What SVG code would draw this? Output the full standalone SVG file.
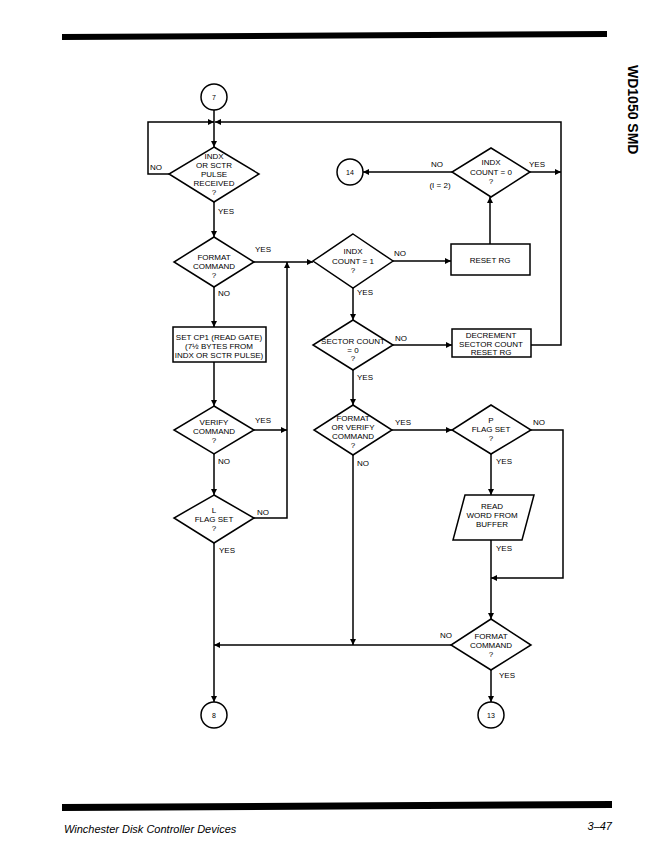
<svg xmlns="http://www.w3.org/2000/svg" width="666" height="850" viewBox="0 0 666 850">
<defs>
<marker id="ah" viewBox="0 0 10 10" refX="10" refY="5" markerWidth="8" markerHeight="6" markerUnits="userSpaceOnUse" orient="auto">
<path d="M0,0 L10,5 L0,10 Z" fill="#000"/>
</marker>
</defs>
<style>
.s{fill:#fff;stroke:#000;stroke-width:1.5}
.c{fill:none;stroke:#000;stroke-width:1.5}
.t{font-family:"Liberation Sans",Arial,sans-serif;font-size:8px;fill:#000;text-anchor:middle}
.l{font-family:"Liberation Sans",Arial,sans-serif;font-size:8px;fill:#000}
.n{font-family:"Liberation Sans",Arial,sans-serif;font-size:7px;fill:#000;text-anchor:middle}
</style>
<rect width="666" height="850" fill="#fff"/>
<polygon points="62,34 607,31 607,37 62,40" fill="#000"/>
<polygon points="62,804 612,801 612,808 62,811" fill="#000"/>
<text x="64" y="833" font-family="Liberation Sans,Arial,sans-serif" font-size="11" font-style="italic">Winchester Disk Controller Devices</text>
<text x="612" y="830" font-family="Liberation Sans,Arial,sans-serif" font-size="11" font-style="italic" text-anchor="end">3–47</text>
<text transform="translate(628,65) rotate(90)" font-family="Liberation Sans,Arial,sans-serif" font-size="14" font-weight="bold">WD1050 SMD</text>

<g id="connectors">
<path class="c" d="M214,110 V147" marker-end="url(#ah)"/>
<path class="c" d="M169,174 H148 V122 H214" marker-end="url(#ah)"/>
<path class="c" d="M531,345 H561 V122 H215" marker-end="url(#ah)"/>
<path class="c" d="M214,202 V237" marker-end="url(#ah)"/>
<path class="c" d="M254,262 H313" marker-end="url(#ah)"/>
<path class="c" d="M393,261 H451" marker-end="url(#ah)"/>
<path class="c" d="M490,244 V197" marker-end="url(#ah)"/>
<path class="c" d="M452,172 H363" marker-end="url(#ah)"/>
<path class="c" d="M530,172 H561" marker-end="url(#ah)"/>
<path class="c" d="M353,288 V320" marker-end="url(#ah)"/>
<path class="c" d="M393,345 H452" marker-end="url(#ah)"/>
<path class="c" d="M353,370 V405" marker-end="url(#ah)"/>
<path class="c" d="M214,287 V327" marker-end="url(#ah)"/>
<path class="c" d="M214,362 V406" marker-end="url(#ah)"/>
<path class="c" d="M254,430 H287" marker-end="url(#ah)"/>
<path class="c" d="M214,454 V495" marker-end="url(#ah)"/>
<path class="c" d="M254,518 H287 V262" marker-end="url(#ah)"/>
<path class="c" d="M214,543 V702" marker-end="url(#ah)"/>
<path class="c" d="M392,430 H452" marker-end="url(#ah)"/>
<path class="c" d="M353,455 V645" marker-end="url(#ah)"/>
<path class="c" d="M531,430 H563 V578 H491" marker-end="url(#ah)"/>
<path class="c" d="M491,454 V495" marker-end="url(#ah)"/>
<path class="c" d="M491,540 V619" marker-end="url(#ah)"/>
<path class="c" d="M451,645 H214" marker-end="url(#ah)"/>
<path class="c" d="M491,670 V702" marker-end="url(#ah)"/>
</g>

<g id="c7"><circle class="s" cx="214" cy="97" r="13"/><text class="n" x="214" y="100">7</text></g>
<g id="d1"><polygon class="s" points="214,147 259,174 214,202 169,174"/>
<text class="t" x="214" y="159">INDX</text><text class="t" x="214" y="168">OR SCTR</text><text class="t" x="214" y="177">PULSE</text><text class="t" x="214" y="186">RECEIVED</text><text class="t" x="214" y="195">?</text></g>
<g id="c14"><circle class="s" cx="350" cy="172" r="13"/><text class="n" x="350" y="175">14</text></g>
<g id="d4"><polygon class="s" points="491,148 530,172 491,197 452,172"/>
<text class="t" x="491" y="165">INDX</text><text class="t" x="491" y="175">COUNT = 0</text><text class="t" x="491" y="184">?</text></g>
<g id="d2"><polygon class="s" points="214,237 254,262 214,287 174,262"/>
<text class="t" x="214" y="260">FORMAT</text><text class="t" x="214" y="269">COMMAND</text><text class="t" x="214" y="278">?</text></g>
<g id="d3"><polygon class="s" points="353,234 393,261 353,288 313,261"/>
<text class="t" x="353" y="254">INDX</text><text class="t" x="353" y="264">COUNT = 1</text><text class="t" x="353" y="273">?</text></g>
<g id="b1"><rect class="s" x="451" y="244" width="79" height="31"/><text class="t" x="490" y="263">RESET RG</text></g>
<g id="b2"><rect class="s" x="173" y="327" width="93" height="35"/>
<text class="t" x="219" y="340">SET CP1 (READ GATE)</text><text class="t" x="219" y="349">(7½ BYTES FROM</text><text class="t" x="219" y="358">INDX OR SCTR PULSE)</text></g>
<g id="d5"><polygon class="s" points="353,320 393,345 353,370 313,345"/>
<text class="t" x="353" y="344">SECTOR COUNT</text><text class="t" x="353" y="353">= 0</text><text class="t" x="353" y="361">?</text></g>
<g id="b3"><rect class="s" x="452" y="329" width="79" height="28"/>
<text class="t" x="491" y="338">DECREMENT</text><text class="t" x="491" y="347">SECTOR COUNT</text><text class="t" x="491" y="355">RESET RG</text></g>
<g id="d7"><polygon class="s" points="214,406 254,430 214,454 174,430"/>
<text class="t" x="214" y="425">VERIFY</text><text class="t" x="214" y="434">COMMAND</text><text class="t" x="214" y="443">?</text></g>
<g id="d6"><polygon class="s" points="353,405 392,430 353,455 314,430"/>
<text class="t" x="353" y="421">FORMAT</text><text class="t" x="353" y="430">OR VERIFY</text><text class="t" x="353" y="439">COMMAND</text><text class="t" x="353" y="448">?</text></g>
<g id="d9"><polygon class="s" points="491,405 531,430 491,454 452,430"/>
<text class="t" x="491" y="423">P</text><text class="t" x="491" y="432">FLAG SET</text><text class="t" x="491" y="441">?</text></g>
<g id="d8"><polygon class="s" points="214,495 254,518 214,543 174,518"/>
<text class="t" x="214" y="513">L</text><text class="t" x="214" y="522">FLAG SET</text><text class="t" x="214" y="531">?</text></g>
<g id="p1"><polygon class="s" points="465,495 534,495 522,540 453,540"/>
<text class="t" x="492" y="509">READ</text><text class="t" x="492" y="518">WORD FROM</text><text class="t" x="492" y="527">BUFFER</text></g>
<g id="d10"><polygon class="s" points="491,619 531,645 491,670 451,645"/>
<text class="t" x="491" y="639">FORMAT</text><text class="t" x="491" y="648">COMMAND</text><text class="t" x="491" y="657">?</text></g>
<g id="c8"><circle class="s" cx="214" cy="715" r="13"/><text class="n" x="214" y="718">8</text></g>
<g id="c13"><circle class="s" cx="491" cy="715" r="13"/><text class="n" x="491" y="718">13</text></g>

<g id="labels">
<text class="l" x="150" y="170">NO</text>
<text class="l" x="218" y="214">YES</text>
<text class="l" x="255" y="252">YES</text>
<text class="l" x="218" y="296">NO</text>
<text class="l" x="394" y="256">NO</text>
<text class="l" x="357" y="295">YES</text>
<text class="l" x="395" y="341">NO</text>
<text class="l" x="357" y="380">YES</text>
<text class="l" x="431" y="167">NO</text>
<text class="l" x="529" y="167">YES</text>
<text class="t" x="440" y="188">(I = 2)</text>
<text class="l" x="255" y="423">YES</text>
<text class="l" x="218" y="464">NO</text>
<text class="l" x="257" y="515">NO</text>
<text class="l" x="219" y="553">YES</text>
<text class="l" x="395" y="425">YES</text>
<text class="l" x="357" y="466">NO</text>
<text class="l" x="533" y="425">NO</text>
<text class="l" x="496" y="464">YES</text>
<text class="l" x="496" y="551">YES</text>
<text class="l" x="440" y="638">NO</text>
<text class="l" x="499" y="678">YES</text>
</g>
</svg>
